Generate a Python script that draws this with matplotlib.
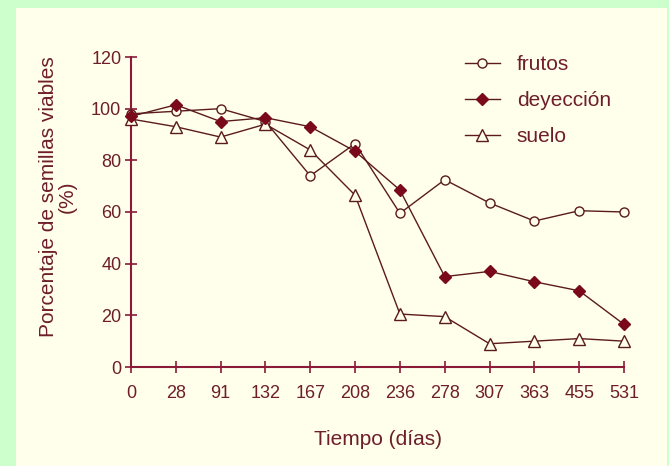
import matplotlib
matplotlib.use("Agg")
import matplotlib.pyplot as plt
from matplotlib.patches import Rectangle

dias = ["0", "28", "91", "132", "167", "208", "236", "278", "307", "363", "455", "531"]
frutos = [98, 99, 100, 95, 74, 86.5, 59.5, 72.5, 63.5, 56.5, 60.5, 60]
deyeccion = [97, 101.5, 95, 96.5, 93, 83.5, 68.5, 35, 37, 33, 29.5, 16.5]
suelo = [96, 93, 89, 94, 84, 66.5, 20.5, 19.5, 9, 10, 11, 10]
yticks = [0, 20, 40, 60, 80, 100, 120]

plt.rcParams['font.family'] = ['Liberation Sans', 'DejaVu Sans']

W, H = 669, 466
fig = plt.figure(figsize=(W / 100, H / 100), dpi=100)
fig.patch.set_facecolor('#CCFFCC')
bg = Rectangle((16 / W, 0), (667 - 16) / W, 1 - 8 / H,
               transform=fig.transFigure, facecolor='#FFFFEC',
               edgecolor='none', zorder=-10)
fig.add_artist(bg)

ax = fig.add_axes([131 / W, 1 - 367 / H, (624 - 131) / W, (367 - 57) / H])
ax.set_facecolor('none')
ax.set_zorder(1)

axis_col = '#8A1A38'
line_col = '#5A1A1E'
text_col = '#6E1E2A'
x = list(range(len(dias)))

ax.plot(x, frutos, color=line_col, lw=1.0, marker='o', ms=6.5, mfc='#FFFFEC',
        mec=line_col, mew=1.0, clip_on=False, label='frutos', zorder=3)
ax.plot(x, deyeccion, color=line_col, lw=1.0, marker='D', ms=6, mfc='#7A0A1A',
        mec='#7A0A1A', clip_on=False, label='deyección', zorder=4)
ax.plot(x, suelo, color=line_col, lw=1.0, marker='^', ms=8, mfc='#FFFFEC',
        mec=line_col, mew=1.0, clip_on=False, label='suelo', zorder=3)

ax.set_xlim(0, len(dias) - 1)
ax.set_ylim(0, 120)
ax.set_xticks(x)
ax.set_xticklabels(dias)
ax.set_yticks(yticks)
for s in ['top', 'right']:
    ax.spines[s].set_visible(False)
for s in ['left', 'bottom']:
    ax.spines[s].set_color(axis_col)
    ax.spines[s].set_linewidth(1.5)
ax.tick_params(axis='both', direction='inout', length=8, width=1.2,
               color=axis_col, labelcolor=text_col, labelsize=13)
ax.tick_params(axis='x', pad=9)
ax.tick_params(axis='y', pad=3)

ax.set_xlabel('Tiempo (días)', color=text_col, fontsize=15, labelpad=20)
ax.set_ylabel('Porcentaje de semillas viables\n(%)', color=text_col, fontsize=15,
              labelpad=10, linespacing=1.0)
ax.yaxis.label.set_y(0.548)

leg = ax.legend(loc='upper left', bbox_to_anchor=(0.677, 1.007), frameon=False,
                fontsize=15, labelcolor=text_col, handlelength=1.7,
                labelspacing=0.82, handletextpad=0.8, borderpad=0,
                borderaxespad=0)

fig.savefig('out.png', dpi=100, facecolor=fig.get_facecolor())
